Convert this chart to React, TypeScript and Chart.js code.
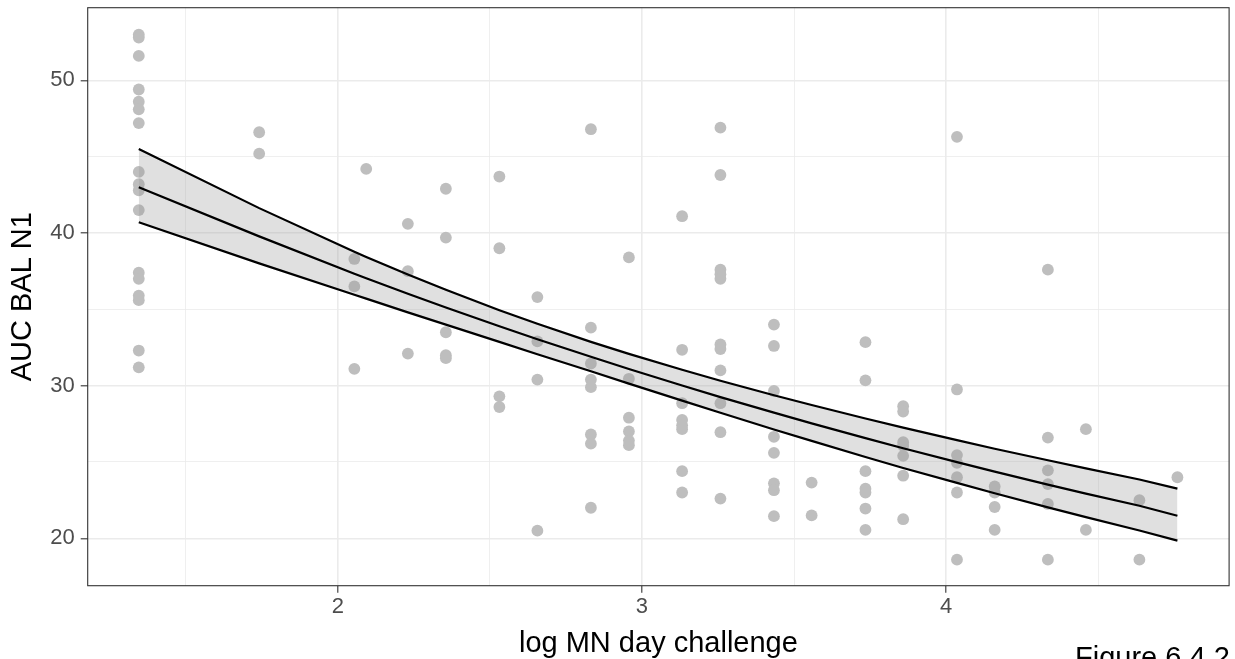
import React, { useEffect, useRef } from 'react';
import { Chart, registerables } from 'chart.js';

Chart.register(...registerables);

const FONT = '"Liberation Sans", Arial, Helvetica, sans-serif';

// Axis ticks
const xMajorTicks = [2, 3, 4];
const xMinorTicks = [1.5, 2.5, 3.5, 4.5];
const yMajorTicks = [20, 30, 40, 50];
const yMinorTicks = [25, 35, 45];

// Observations (log MN day challenge, AUC BAL N1)
const pointX = [
  1.345, 1.345, 1.345, 1.345, 1.345, 1.345, 1.345, 1.345, 1.345, 1.345, 1.345, 1.345, 1.345, 1.345, 1.345, 1.345, 1.345,
  1.741, 1.741,
  2.054, 2.054, 2.054,
  2.093,
  2.23, 2.23, 2.23,
  2.355, 2.355, 2.355, 2.355, 2.355,
  2.531, 2.531, 2.531, 2.531,
  2.656, 2.656, 2.656, 2.656,
  2.832, 2.832, 2.832, 2.832, 2.832, 2.832, 2.832, 2.832,
  2.957, 2.957, 2.957, 2.957, 2.957, 2.957,
  3.132, 3.132, 3.132, 3.132, 3.132, 3.132, 3.132, 3.132,
  3.258, 3.258, 3.258, 3.258, 3.258, 3.258, 3.258, 3.258, 3.258, 3.258, 3.258,
  3.434, 3.434, 3.434, 3.434, 3.434, 3.434, 3.434, 3.434,
  3.558, 3.558,
  3.735, 3.735, 3.735, 3.735, 3.735, 3.735, 3.735,
  3.859, 3.859, 3.859, 3.859, 3.859, 3.859, 3.859,
  4.036, 4.036, 4.036, 4.036, 4.036, 4.036, 4.036,
  4.16, 4.16, 4.16, 4.16,
  4.335, 4.335, 4.335, 4.335, 4.335, 4.335,
  4.46, 4.46,
  4.636, 4.636,
  4.761,
];
const pointY = [
  53.0, 52.8, 51.6, 49.4, 48.6, 48.1, 47.2, 44.0, 43.2, 42.8, 41.5, 37.4, 37.0, 35.9, 35.6, 32.3, 31.2,
  46.6, 45.2,
  38.3, 36.5, 31.1,
  44.2,
  40.6, 37.5, 32.1,
  42.9, 39.7, 33.5, 32.0, 31.8,
  43.7, 39.0, 29.3, 28.6,
  35.8, 32.9, 30.4, 20.5,
  46.8, 33.8, 31.45, 30.4, 29.9, 26.8, 26.2, 22.0,
  38.4, 30.45, 27.9, 27.0, 26.4, 26.1,
  41.1, 32.35, 28.85, 27.75, 27.4, 27.15, 24.4, 23.0,
  46.9, 43.8, 37.6, 37.3, 37.0, 32.7, 32.4, 31.0, 28.85, 26.95, 22.6,
  34.0, 32.6, 29.65, 26.65, 25.6, 23.6, 23.15, 21.45,
  23.65, 21.5,
  32.85, 30.35, 24.4, 23.25, 23.0, 21.95, 20.55,
  28.65, 28.3, 26.3, 26.05, 25.4, 24.1, 21.25,
  46.3, 29.75, 25.45, 24.95, 24.0, 23.0, 18.6,
  23.4, 23.0, 22.05, 20.55,
  37.6, 26.6, 24.45, 23.55, 22.25, 18.6,
  27.15, 20.55,
  22.5, 18.6,
  24.0,
];

// Fitted curve with confidence band
const fitX = [1.345, 1.741, 2.054, 2.093, 2.23, 2.355, 2.531, 2.656, 2.832, 2.957, 3.132, 3.258, 3.434, 3.558, 3.735, 3.859, 4.036, 4.16, 4.335, 4.46, 4.636, 4.761];
const fitMid = [43.0, 39.78, 37.33, 37.04, 36.02, 35.12, 33.89, 33.04, 31.89, 31.09, 30.01, 29.25, 28.23, 27.53, 26.56, 25.9, 24.99, 24.37, 23.52, 22.93, 22.13, 21.48];
const fitUpper = [45.51, 41.63, 38.77, 38.43, 37.28, 36.28, 34.94, 34.05, 32.87, 32.08, 31.04, 30.32, 29.37, 28.73, 27.85, 27.25, 26.43, 25.87, 25.11, 24.58, 23.85, 23.25];
const fitLower = [40.7, 38.01, 35.95, 35.7, 34.8, 34.0, 32.87, 32.06, 30.94, 30.13, 29.02, 28.22, 27.13, 26.38, 25.33, 24.61, 23.63, 22.95, 22.03, 21.39, 20.51, 19.85];

const X_MIN = 1.177;
const X_MAX = 4.931;
const Y_MIN = 16.895;
const Y_MAX = 54.76;

const W = 1235;
const H = 659;

const panelBorder = {
  id: 'panelBorder',
  afterDraw(chart: any) {
    const { ctx, chartArea: a } = chart;
    ctx.save();
    ctx.strokeStyle = '#333333';
    ctx.lineWidth = 1.1;
    ctx.strokeRect(a.left, a.top, a.right - a.left, a.bottom - a.top);
    ctx.restore();
  },
};

export default function App() {
  const ref = useRef<HTMLCanvasElement | null>(null);

  useEffect(() => {
    if (!ref.current) return;
    const isMajorX = (v: number) => xMajorTicks.includes(v);
    const isMajorY = (v: number) => yMajorTicks.includes(v);
    const chart = new Chart(ref.current, {
      type: 'line',
      data: {
        datasets: [
          {
            label: 'fit',
            data: fitX.map((x, i) => ({ x, y: fitMid[i] })),
            borderColor: '#000000',
            borderWidth: 2.2,
            pointRadius: 0,
            fill: false,
            tension: 0,
            order: 0,
          },
          {
            label: 'upper',
            data: fitX.map((x, i) => ({ x, y: fitUpper[i] })),
            borderColor: '#000000',
            borderWidth: 2.2,
            pointRadius: 0,
            fill: false,
            tension: 0,
            order: 1,
          },
          {
            label: 'lower',
            data: fitX.map((x, i) => ({ x, y: fitLower[i] })),
            borderColor: '#000000',
            borderWidth: 2.2,
            pointRadius: 0,
            fill: '-1',
            backgroundColor: 'rgba(153,153,153,0.3)',
            tension: 0,
            order: 2,
          },
          {
            label: 'observed',
            data: pointX.map((x, i) => ({ x, y: pointY[i] })),
            showLine: false,
            pointRadius: 5.9,
            pointBackgroundColor: '#BEBEBE',
            pointBorderWidth: 0,
            pointBorderColor: 'rgba(0,0,0,0)',
            order: 3,
          },
        ] as any,
      },
      options: {
        responsive: false,
        animation: false,
        devicePixelRatio: 1,
        layout: { padding: { top: 7.7, right: 4.3, left: 0, bottom: 0 } },
        plugins: {
          legend: { display: false },
          tooltip: { enabled: false },
        },
        scales: {
          x: {
            type: 'linear',
            min: X_MIN,
            max: X_MAX,
            afterBuildTicks: (s: any) => {
              s.ticks = [...xMinorTicks, ...xMajorTicks].sort((a, b) => a - b).map((v) => ({ value: v }));
            },
            afterFit: (s: any) => {
              s.height = H - 585.7;
              s.paddingLeft = 0;
              s.paddingRight = 0;
            },
            border: { display: false },
            grid: {
              color: '#EBEBEB',
              lineWidth: (c: any) => (c.tick && isMajorX(c.tick.value) ? 1.6 : 0.8),
              drawTicks: true,
              tickLength: 7,
              tickWidth: 1.1,
              tickColor: (c: any) => (c.tick && isMajorX(c.tick.value) ? '#333333' : 'rgba(0,0,0,0)'),
            },
            ticks: {
              autoSkip: false,
              maxRotation: 0,
              minRotation: 0,
              color: '#4D4D4D',
              padding: 1.5,
              font: { size: 22, family: FONT },
              callback: (v: any) => (isMajorX(Number(v)) ? String(v) : ''),
            },
            title: {
              display: true,
              text: 'log MN day challenge',
              color: '#000000',
              font: { size: 29, family: FONT },
              padding: { top: 0, bottom: -2 },
            },
          },
          y: {
            type: 'linear',
            min: Y_MIN,
            max: Y_MAX,
            afterBuildTicks: (s: any) => {
              s.ticks = [...yMinorTicks, ...yMajorTicks].sort((a, b) => a - b).map((v) => ({ value: v }));
            },
            afterFit: (s: any) => {
              s.width = 87.7;
              s.paddingTop = 0;
              s.paddingBottom = 0;
            },
            border: { display: false },
            grid: {
              color: '#EBEBEB',
              lineWidth: (c: any) => (c.tick && isMajorY(c.tick.value) ? 1.6 : 0.8),
              drawTicks: true,
              tickLength: 7,
              tickWidth: 1.1,
              tickColor: (c: any) => (c.tick && isMajorY(c.tick.value) ? '#333333' : 'rgba(0,0,0,0)'),
            },
            ticks: {
              autoSkip: false,
              color: '#4D4D4D',
              padding: 6,
              font: { size: 22, family: FONT },
              callback: (v: any) => (isMajorY(Number(v)) ? String(v) : ''),
            },
            title: {
              display: true,
              text: 'AUC BAL N1',
              color: '#000000',
              font: { size: 29, family: FONT },
              padding: { top: 6, bottom: 0 },
            },
          },
        },
      } as any,
      plugins: [panelBorder],
    });
    return () => chart.destroy();
  }, []);

  return (
    <div
      style={{
        position: 'absolute',
        left: 0,
        top: 0,
        width: W,
        height: H,
        overflow: 'hidden',
        background: '#FFFFFF',
      }}
    >
      <canvas ref={ref} width={W} height={H} style={{ display: 'block', width: W, height: H }} />
      <div
        style={{
          position: 'absolute',
          left: 1075,
          top: 643.2,
          fontFamily: FONT,
          fontSize: 29,
          lineHeight: 1,
          color: '#000000',
          whiteSpace: 'nowrap',
        }}
      >
        Figure 6.4.2
      </div>
    </div>
  );
}
